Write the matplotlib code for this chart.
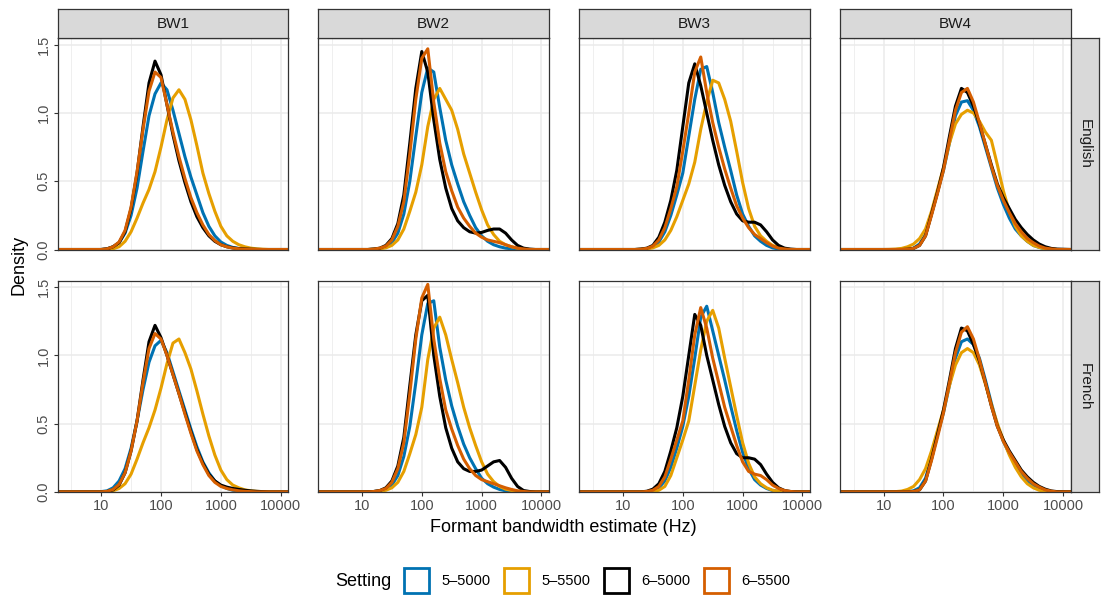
import matplotlib
matplotlib.use("Agg")
import matplotlib.pyplot as plt
from matplotlib.patches import Rectangle
from matplotlib.ticker import NullLocator

plt.rcParams["font.family"] = ["Liberation Sans", "DejaVu Sans"]

# density grid: log10(Hz) positions where the curves were read
LOG10_HZ = [0.27, 1.0, 1.1, 1.2, 1.3, 1.4, 1.5, 1.6, 1.7, 1.8, 1.9,
            2.0, 2.1, 2.2, 2.3, 2.4, 2.5, 2.6, 2.7, 2.8, 2.9,
            3.0, 3.1, 3.2, 3.3, 3.4, 3.5, 3.6, 3.7, 3.8, 3.9, 4.13]

SETTINGS = ["5\u20135000", "5\u20135500", "6\u20135000", "6\u20135500"]
COLORS = ["#0072B2", "#E69F00", "#000000", "#D55E00"]
FORMANTS = ["BW1", "BW2", "BW3", "BW4"]
LANGUAGES = ["English", "French"]

# ---- English ----
EN_BW1_5_5000 = [0, 0, 0.005, 0.02, 0.05, 0.12, 0.25, 0.45, 0.72, 0.98, 1.14,
                 1.22, 1.17, 1.02, 0.85, 0.68, 0.53, 0.40, 0.27, 0.17, 0.10,
                 0.055, 0.03, 0.015, 0.007, 0.003, 0.001, 0, 0, 0, 0, 0]
EN_BW1_5_5500 = [0, 0, 0, 0.005, 0.02, 0.06, 0.13, 0.23, 0.34, 0.44, 0.57,
                 0.75, 0.95, 1.11, 1.17, 1.10, 0.95, 0.76, 0.56, 0.41, 0.28,
                 0.17, 0.10, 0.06, 0.035, 0.02, 0.01, 0.005, 0.002, 0, 0, 0]
EN_BW1_6_5000 = [0, 0, 0.005, 0.02, 0.05, 0.13, 0.30, 0.56, 0.90, 1.22, 1.38,
                 1.28, 1.06, 0.84, 0.65, 0.49, 0.35, 0.24, 0.16, 0.10, 0.06,
                 0.035, 0.02, 0.012, 0.007, 0.004, 0.002, 0.001, 0, 0, 0, 0]
EN_BW1_6_5500 = [0, 0, 0.005, 0.02, 0.055, 0.14, 0.31, 0.57, 0.88, 1.16, 1.30,
                 1.26, 1.06, 0.86, 0.68, 0.52, 0.38, 0.27, 0.18, 0.11, 0.065,
                 0.035, 0.02, 0.01, 0.005, 0.002, 0.001, 0, 0, 0, 0, 0]

EN_BW2_5_5000 = [0, 0, 0, 0.003, 0.008, 0.02, 0.05, 0.12, 0.26, 0.50, 0.83,
                 1.15, 1.33, 1.30, 1.04, 0.80, 0.62, 0.48, 0.35, 0.25, 0.16,
                 0.10, 0.06, 0.035, 0.02, 0.01, 0.005, 0.002, 0, 0, 0, 0]
EN_BW2_5_5500 = [0, 0, 0, 0.002, 0.005, 0.012, 0.03, 0.07, 0.15, 0.28, 0.42,
                 0.62, 0.90, 1.10, 1.18, 1.10, 1.02, 0.88, 0.70, 0.56, 0.42,
                 0.29, 0.18, 0.11, 0.06, 0.035, 0.02, 0.01, 0.004, 0, 0, 0]
EN_BW2_6_5000 = [0, 0, 0, 0.003, 0.01, 0.03, 0.08, 0.19, 0.40, 0.78, 1.18,
                 1.45, 1.30, 0.95, 0.66, 0.45, 0.30, 0.21, 0.16, 0.13, 0.12,
                 0.125, 0.14, 0.15, 0.15, 0.12, 0.07, 0.03, 0.01, 0.003, 0, 0]
EN_BW2_6_5500 = [0, 0, 0, 0.003, 0.01, 0.025, 0.07, 0.17, 0.35, 0.70, 1.10,
                 1.40, 1.47, 1.08, 0.78, 0.57, 0.43, 0.31, 0.23, 0.17, 0.12,
                 0.09, 0.07, 0.06, 0.05, 0.035, 0.02, 0.01, 0.004, 0, 0, 0]

EN_BW3_5_5000 = [0, 0, 0, 0, 0.002, 0.006, 0.02, 0.055, 0.13, 0.25, 0.40,
                 0.56, 0.83, 1.10, 1.32, 1.34, 1.15, 0.93, 0.75, 0.58, 0.40,
                 0.26, 0.17, 0.10, 0.06, 0.03, 0.012, 0.004, 0, 0, 0, 0]
EN_BW3_5_5500 = [0, 0, 0, 0, 0.001, 0.004, 0.012, 0.03, 0.07, 0.14, 0.24,
                 0.36, 0.48, 0.64, 0.88, 1.08, 1.24, 1.22, 1.10, 0.94, 0.72,
                 0.49, 0.30, 0.17, 0.10, 0.06, 0.03, 0.015, 0.005, 0, 0, 0]
EN_BW3_6_5000 = [0, 0, 0, 0, 0.003, 0.01, 0.03, 0.09, 0.20, 0.36, 0.58,
                 0.90, 1.22, 1.36, 1.20, 1.00, 0.80, 0.62, 0.47, 0.35, 0.26,
                 0.21, 0.20, 0.20, 0.18, 0.13, 0.07, 0.03, 0.01, 0.003, 0, 0]
EN_BW3_6_5500 = [0, 0, 0, 0, 0.002, 0.008, 0.025, 0.07, 0.16, 0.30, 0.46,
                 0.72, 1.00, 1.30, 1.41, 1.15, 0.93, 0.75, 0.59, 0.45, 0.32,
                 0.23, 0.16, 0.11, 0.08, 0.05, 0.025, 0.01, 0.004, 0, 0, 0]

EN_BW4_5_5000 = [0, 0, 0, 0, 0.001, 0.003, 0.01, 0.04, 0.11, 0.26, 0.42,
                 0.58, 0.78, 0.98, 1.08, 1.09, 1.02, 0.90, 0.75, 0.60, 0.45,
                 0.33, 0.23, 0.15, 0.10, 0.06, 0.03, 0.015, 0.005, 0.002, 0, 0]
EN_BW4_5_5500 = [0, 0, 0.001, 0.003, 0.008, 0.02, 0.04, 0.08, 0.15, 0.28, 0.44,
                 0.60, 0.78, 0.92, 0.99, 1.02, 1.00, 0.94, 0.86, 0.80, 0.62,
                 0.43, 0.28, 0.17, 0.10, 0.06, 0.03, 0.015, 0.005, 0.002, 0, 0]
EN_BW4_6_5000 = [0, 0, 0, 0, 0, 0.002, 0.008, 0.03, 0.10, 0.26, 0.42,
                 0.60, 0.83, 1.05, 1.18, 1.15, 1.05, 0.92, 0.77, 0.62, 0.48,
                 0.38, 0.30, 0.22, 0.16, 0.11, 0.07, 0.04, 0.02, 0.008, 0.003, 0]
EN_BW4_6_5500 = [0, 0, 0, 0, 0, 0.002, 0.008, 0.03, 0.10, 0.25, 0.41,
                 0.58, 0.80, 1.02, 1.15, 1.18, 1.08, 0.93, 0.77, 0.61, 0.47,
                 0.36, 0.27, 0.19, 0.13, 0.08, 0.05, 0.025, 0.01, 0.004, 0, 0]

# ---- French ----
FR_BW1_5_5000 = [0, 0.002, 0.008, 0.03, 0.08, 0.17, 0.32, 0.52, 0.75, 0.95, 1.07,
                 1.11, 1.02, 0.88, 0.74, 0.60, 0.46, 0.33, 0.22, 0.14, 0.08,
                 0.045, 0.025, 0.012, 0.006, 0.003, 0.001, 0, 0, 0, 0, 0]
FR_BW1_5_5500 = [0, 0, 0.002, 0.008, 0.025, 0.06, 0.13, 0.24, 0.36, 0.47, 0.60,
                 0.76, 0.94, 1.09, 1.12, 1.02, 0.90, 0.74, 0.57, 0.41, 0.27,
                 0.16, 0.09, 0.05, 0.03, 0.015, 0.008, 0.004, 0.002, 0, 0, 0]
FR_BW1_6_5000 = [0, 0, 0.003, 0.015, 0.05, 0.14, 0.30, 0.52, 0.82, 1.10, 1.22,
                 1.13, 1.00, 0.86, 0.72, 0.58, 0.44, 0.31, 0.21, 0.13, 0.08,
                 0.05, 0.035, 0.025, 0.018, 0.012, 0.007, 0.004, 0.002, 0, 0, 0]
FR_BW1_6_5500 = [0, 0, 0.004, 0.018, 0.055, 0.14, 0.30, 0.52, 0.80, 1.05, 1.16,
                 1.12, 1.00, 0.86, 0.72, 0.57, 0.43, 0.30, 0.20, 0.12, 0.07,
                 0.04, 0.025, 0.015, 0.008, 0.004, 0.002, 0, 0, 0, 0, 0]

FR_BW2_5_5000 = [0, 0, 0, 0.003, 0.008, 0.02, 0.05, 0.12, 0.26, 0.48, 0.80,
                 1.15, 1.38, 1.40, 1.06, 0.82, 0.63, 0.48, 0.35, 0.25, 0.17,
                 0.10, 0.06, 0.035, 0.018, 0.008, 0.003, 0.001, 0, 0, 0, 0]
FR_BW2_5_5500 = [0, 0, 0, 0.002, 0.005, 0.012, 0.03, 0.07, 0.15, 0.28, 0.42,
                 0.62, 0.97, 1.20, 1.28, 1.15, 0.97, 0.80, 0.62, 0.47, 0.34,
                 0.22, 0.13, 0.075, 0.04, 0.02, 0.01, 0.004, 0.001, 0, 0, 0]
FR_BW2_6_5000 = [0, 0, 0, 0.003, 0.01, 0.03, 0.08, 0.19, 0.40, 0.78, 1.15,
                 1.40, 1.44, 1.00, 0.70, 0.47, 0.32, 0.22, 0.17, 0.15, 0.15,
                 0.16, 0.19, 0.22, 0.23, 0.18, 0.10, 0.04, 0.01, 0.003, 0, 0]
FR_BW2_6_5500 = [0, 0, 0, 0.003, 0.01, 0.025, 0.07, 0.17, 0.36, 0.72, 1.12,
                 1.42, 1.52, 1.12, 0.83, 0.60, 0.46, 0.34, 0.24, 0.17, 0.12,
                 0.09, 0.075, 0.06, 0.045, 0.03, 0.018, 0.008, 0.003, 0, 0, 0]

FR_BW3_5_5000 = [0, 0, 0, 0, 0, 0.002, 0.008, 0.03, 0.08, 0.18, 0.32,
                 0.48, 0.70, 0.98, 1.28, 1.36, 1.18, 1.00, 0.82, 0.63, 0.45,
                 0.29, 0.17, 0.09, 0.05, 0.025, 0.01, 0.004, 0, 0, 0, 0]
FR_BW3_5_5500 = [0, 0, 0, 0, 0, 0, 0.003, 0.012, 0.04, 0.12, 0.25,
                 0.38, 0.52, 0.78, 1.04, 1.25, 1.33, 1.20, 0.98, 0.77, 0.56,
                 0.36, 0.21, 0.11, 0.06, 0.03, 0.012, 0.004, 0, 0, 0, 0]
FR_BW3_6_5000 = [0, 0, 0, 0, 0, 0.005, 0.02, 0.06, 0.15, 0.30, 0.47,
                 0.70, 1.00, 1.30, 1.22, 1.00, 0.82, 0.64, 0.48, 0.36, 0.28,
                 0.25, 0.25, 0.24, 0.20, 0.13, 0.07, 0.03, 0.01, 0.003, 0, 0]
FR_BW3_6_5500 = [0, 0, 0, 0, 0, 0.003, 0.012, 0.04, 0.11, 0.24, 0.38,
                 0.52, 0.82, 1.15, 1.35, 1.20, 0.98, 0.80, 0.62, 0.48, 0.34,
                 0.22, 0.15, 0.13, 0.12, 0.09, 0.05, 0.025, 0.01, 0.003, 0, 0]

FR_BW4_5_5000 = [0, 0, 0, 0, 0, 0.002, 0.008, 0.03, 0.10, 0.25, 0.42,
                 0.58, 0.78, 0.98, 1.10, 1.12, 1.08, 0.98, 0.82, 0.65, 0.49,
                 0.37, 0.28, 0.20, 0.13, 0.08, 0.05, 0.025, 0.01, 0.003, 0, 0]
FR_BW4_5_5500 = [0, 0, 0, 0.002, 0.006, 0.018, 0.04, 0.09, 0.17, 0.30, 0.45,
                 0.60, 0.78, 0.93, 1.02, 1.05, 1.02, 0.93, 0.79, 0.64, 0.50,
                 0.38, 0.27, 0.18, 0.11, 0.06, 0.03, 0.012, 0.004, 0, 0, 0]
FR_BW4_6_5000 = [0, 0, 0, 0, 0, 0, 0.003, 0.015, 0.08, 0.24, 0.42,
                 0.60, 0.82, 1.05, 1.20, 1.18, 1.08, 0.96, 0.80, 0.63, 0.48,
                 0.38, 0.30, 0.23, 0.16, 0.11, 0.07, 0.04, 0.02, 0.007, 0.002, 0]
FR_BW4_6_5500 = [0, 0, 0, 0, 0, 0, 0.003, 0.015, 0.08, 0.23, 0.40,
                 0.58, 0.80, 1.02, 1.17, 1.21, 1.12, 0.97, 0.80, 0.63, 0.48,
                 0.37, 0.29, 0.22, 0.15, 0.10, 0.06, 0.035, 0.015, 0.005, 0, 0]

PANELS = {
    ("English", "BW1"): [EN_BW1_5_5000, EN_BW1_5_5500, EN_BW1_6_5000, EN_BW1_6_5500],
    ("English", "BW2"): [EN_BW2_5_5000, EN_BW2_5_5500, EN_BW2_6_5000, EN_BW2_6_5500],
    ("English", "BW3"): [EN_BW3_5_5000, EN_BW3_5_5500, EN_BW3_6_5000, EN_BW3_6_5500],
    ("English", "BW4"): [EN_BW4_5_5000, EN_BW4_5_5500, EN_BW4_6_5000, EN_BW4_6_5500],
    ("French", "BW1"): [FR_BW1_5_5000, FR_BW1_5_5500, FR_BW1_6_5000, FR_BW1_6_5500],
    ("French", "BW2"): [FR_BW2_5_5000, FR_BW2_5_5500, FR_BW2_6_5000, FR_BW2_6_5500],
    ("French", "BW3"): [FR_BW3_5_5000, FR_BW3_5_5500, FR_BW3_6_5000, FR_BW3_6_5500],
    ("French", "BW4"): [FR_BW4_5_5000, FR_BW4_5_5500, FR_BW4_6_5000, FR_BW4_6_5500],
}

X_TICKS = [10, 100, 1000, 10000]
X_LABELS = ["10", "100", "1000", "10000"]
Y_TICKS = [0.0, 0.5, 1.0, 1.5]
Y_LABELS = ["0.0", "0.5", "1.0", "1.5"]

BORDER = "#333333"; GRID = "#EBEBEB"; STRIP = "#D9D9D9"; TICKTXT = "#4D4D4D"

W, H = 1105, 597
fig = plt.figure(figsize=(W / 100, H / 100), dpi=100)
fig.patch.set_facecolor("white")

def box(left, top, w, h):
    return [left / W, 1 - (top + h) / H, w / W, h / H]

COL_LEFT = [57.5, 318.3, 579.3, 840.0]
ROW_TOP = [38.3, 280.7]
PW, PH = 230.5, 211.2
hz = [10 ** v for v in LOG10_HZ]

for r, lang in enumerate(LANGUAGES):
    for c, bw in enumerate(FORMANTS):
        ax = fig.add_axes(box(COL_LEFT[c], ROW_TOP[r], PW, PH))
        ax.set_xscale("log")
        for vals, col in zip(PANELS[(lang, bw)], COLORS):
            ax.plot(hz, vals, color=col, lw=2.2, solid_joinstyle="round",
                    solid_capstyle="round", zorder=3)
        ax.set_xlim(10 ** 0.271, 10 ** 4.122)
        ax.set_ylim(0, 1.547)
        ax.set_xticks(X_TICKS)
        ax.set_xticks([10 ** 0.5, 10 ** 1.5, 10 ** 2.5, 10 ** 3.5], minor=True)
        ax.set_yticks(Y_TICKS)
        ax.yaxis.set_minor_locator(NullLocator())
        ax.grid(which="major", color=GRID, lw=1.1, zorder=0)
        ax.grid(which="minor", axis="x", color=GRID, lw=0.55, zorder=0)
        ax.set_axisbelow(True)
        for s in ax.spines.values():
            s.set_color(BORDER); s.set_linewidth(0.9); s.set_zorder(5)
        ax.tick_params(which="minor", length=0)
        ax.tick_params(which="major", length=3, width=0.8, color=BORDER,
                       labelcolor=TICKTXT, labelsize=10.5)
        if r == 1:
            ax.set_xticklabels(X_LABELS)
            ax.tick_params(axis="x", pad=2)
        else:
            ax.tick_params(axis="x", length=0, labelbottom=False)
        if c == 0:
            ax.set_yticklabels(Y_LABELS, rotation=90, va="center")
            ax.tick_params(axis="y", pad=2)
        else:
            ax.tick_params(axis="y", length=0, labelleft=False)

        # column strips on top
        if r == 0:
            sa = fig.add_axes(box(COL_LEFT[c], 9.0, PW, 29.3))
            sa.set_facecolor(STRIP); sa.set_xticks([]); sa.set_yticks([])
            for s in sa.spines.values():
                s.set_color(BORDER); s.set_linewidth(0.9)
            sa.text(0.5, 0.5, bw, ha="center", va="center", color="#1A1A1A",
                    fontsize=11, transform=sa.transAxes)
    # row strip on the right
    ra = fig.add_axes(box(1070.5, ROW_TOP[r], 28.8, PH))
    ra.set_facecolor(STRIP); ra.set_xticks([]); ra.set_yticks([])
    for s in ra.spines.values():
        s.set_color(BORDER); s.set_linewidth(0.9)
    ra.text(0.5, 0.5, lang, ha="center", va="center", rotation=-90,
            color="#1A1A1A", fontsize=11, transform=ra.transAxes)

fig.text(563.7 / W, 1 - 528 / H, "Formant bandwidth estimate (Hz)",
         ha="center", va="center", fontsize=13, color="black")
fig.text(19 / W, 1 - 265 / H, "Density", ha="center", va="center",
         rotation=90, fontsize=13, color="black")

# legend
fig.text(335 / W, 1 - 581 / H, "Setting", ha="left", va="center", fontsize=13)
for i, (lab, col) in enumerate(zip(SETTINGS, COLORS)):
    x0 = 404.4 + i * 100
    fig.add_artist(Rectangle((x0 / W, 1 - 593 / H), 25 / W, 25 / H,
                             transform=fig.transFigure, facecolor="white",
                             edgecolor=col, lw=2.0))
    fig.text((x0 + 36.6) / W, 1 - 581 / H, lab, ha="left", va="center",
             fontsize=10.5, color="black")

fig.savefig("out.png", dpi=100, facecolor="white")
